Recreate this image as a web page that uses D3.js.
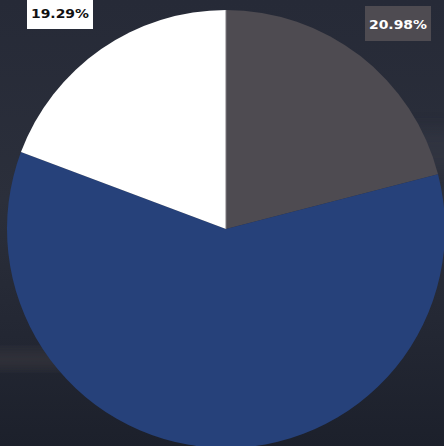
<!DOCTYPE html>
<html>
<head>
  <meta charset="utf-8">
  <title>pie</title>
  <style>
    html, body { margin: 0; padding: 0; background: #252936; overflow: hidden; }
    svg { display: block; }
    .lbl { font-family: 'DejaVu Sans', sans-serif; font-weight: bold; font-size: 13px; }
  </style>
  <script src="https://cdn.jsdelivr.net/npm/d3@7"></script>
</head>
<body>
  <svg id="chart" width="444" height="446"></svg>
  <script>
    // slice data, clockwise from 12 o'clock
    var names = ["gray", "blue", "white"];
    var values = [20.98, 59.73, 19.29];
    var colors = ["#4e4b51", "#26417a", "#ffffff"];
    var labels = ["20.98%", null, "19.29%"];

    var W = 444, H = 446;
    var svg = d3.select("#chart");

    // background: dark navy, lighter in the middle, grainy toward bottom
    var defs = svg.append("defs");
    var bg = defs.append("linearGradient").attr("id", "bg")
      .attr("x1", 0).attr("y1", 0).attr("x2", 0).attr("y2", 1);
    bg.append("stop").attr("offset", "0%").attr("stop-color", "#262a37");
    bg.append("stop").attr("offset", "45%").attr("stop-color", "#2b2f3b");
    bg.append("stop").attr("offset", "75%").attr("stop-color", "#232733");
    bg.append("stop").attr("offset", "100%").attr("stop-color", "#1c202b");

    var blur = defs.append("filter").attr("id", "blur")
      .attr("x", "-50%").attr("y", "-50%").attr("width", "200%").attr("height", "200%");
    blur.append("feGaussianBlur").attr("stdDeviation", 8);

    svg.append("rect").attr("width", W).attr("height", H).attr("fill", "url(#bg)");
    // faint light band at lower left
    svg.append("rect").attr("x", -20).attr("y", 352).attr("width", 150).attr("height", 14)
      .attr("fill", "#3d3b40").attr("opacity", 0.8).attr("filter", "url(#blur)");
    svg.append("rect").attr("x", 360).attr("y", 130).attr("width", 100).attr("height", 40)
      .attr("fill", "#353845").attr("opacity", 0.6).attr("filter", "url(#blur)");

    var cx = 226, cy = 229, r = 219;

    var pie = d3.pie().sort(null).value(function (d) { return d; });
    var arc = d3.arc().innerRadius(0).outerRadius(r);

    var g = svg.append("g").attr("transform", "translate(" + cx + "," + cy + ")");
    g.selectAll("path")
      .data(pie(values))
      .enter().append("path")
      .attr("d", arc)
      .attr("fill", function (d, i) { return colors[i]; });

    // divider between white and gray slices
    g.append("line").attr("x1", 0).attr("y1", 0).attr("x2", 0).attr("y2", -r)
      .attr("stroke", "#7a787e").attr("stroke-width", 1);

    // label boxes
    var boxes = [
      { text: labels[2], x: 27, y: 0, w: 66, h: 29, fill: colors[2], ink: "#111111", ty: 18 },
      { text: labels[0], x: 365, y: 6, w: 66, h: 35, fill: colors[0], ink: "#ffffff", ty: 29 }
    ];
    boxes.forEach(function (b) {
      svg.append("rect").attr("x", b.x).attr("y", b.y).attr("width", b.w).attr("height", b.h)
        .attr("fill", b.fill);
      svg.append("text").attr("class", "lbl")
        .attr("x", b.x + 4).attr("y", b.ty)
        .attr("textLength", b.w - 8).attr("lengthAdjust", "spacingAndGlyphs")
        .attr("fill", b.ink)
        .text(b.text);
    });
  </script>
</body>
</html>
